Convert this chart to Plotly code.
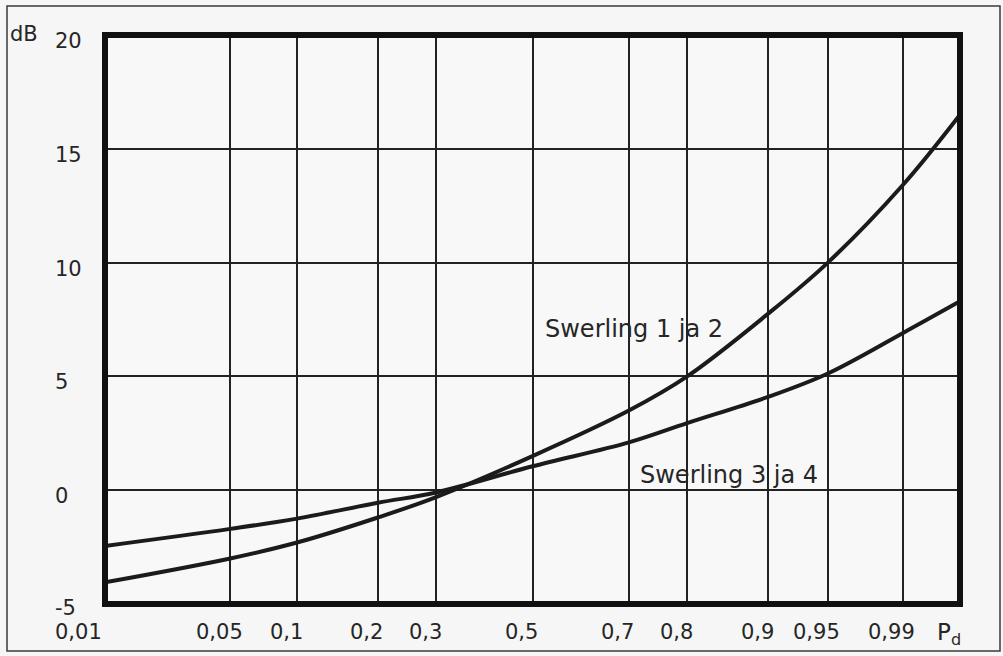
from statistics import NormalDist
import plotly.graph_objects as go

# Detection probability (normal-probability x scale) and required extra SNR in dB
pd_values = [0.01, 0.05, 0.1, 0.2, 0.3, 0.5, 0.7, 0.8, 0.9, 0.946, 0.978, 0.99]
swerling12_db = [-4.05, -3.0, -2.3, -1.2, -0.3, 1.5, 3.5, 5.0, 7.75, 10.0, 13.4, 16.5]
swerling34_db = [-2.45, -1.7, -1.25, -0.55, -0.1, 1.05, 2.1, 2.95, 4.1, 5.13, 6.9, 8.3]

x_tick_probs = [0.01, 0.05, 0.1, 0.2, 0.3, 0.5, 0.7, 0.8, 0.9, 0.946, 0.978]
x_tick_labels = ["0,01", "0,05", "0,1", "0,2", "0,3", "0,5", "0,7", "0,8", "0,9", "0,95", "0,99"]
y_tick_vals = [20, 15, 10, 5, 0, -5]
y_tick_labels = ["20", "15", "10", "5", "0", "-5"]

W, H = 1003, 656
ML, MR, MT, MB = 105, 43, 35, 52
PW, PH = W - ML - MR, H - MT - MB

z = NormalDist().inv_cdf
FONT = "DejaVu Sans"
INK = "#1b1b1b"
TXT = "#262626"

fig = go.Figure()
for name, vals in (("Swerling 1 ja 2", swerling12_db), ("Swerling 3 ja 4", swerling34_db)):
    fig.add_trace(go.Scatter(
        x=[z(p) for p in pd_values], y=vals, mode="lines", name=name,
        line=dict(color=INK, width=4, shape="spline", smoothing=1.0),
        showlegend=False, hoverinfo="skip",
    ))

annotations = []
# x tick labels (sit slightly left of their grid lines)
for i, (p, lab) in enumerate(zip(x_tick_probs, x_tick_labels)):
    first = i == 0
    annotations.append(dict(x=z(p), y=0, xref="x", yref="paper", text=lab,
                            xanchor="right" if first else "center", yanchor="middle",
                            xshift=-1 if first else -11, yshift=-28,
                            showarrow=False, font=dict(family=FONT, size=21, color=TXT)))
# y tick labels, left aligned
for v, lab in zip(y_tick_vals, y_tick_labels):
    annotations.append(dict(x=(53 - ML) / PW, y=v, xref="paper", yref="y", text=lab,
                            xanchor="left", yanchor="middle",
                            yshift=-4 if v == -5 else -6,
                            showarrow=False, font=dict(family=FONT, size=21, color=TXT)))
# axis titles
annotations.append(dict(x=(8 - ML) / PW, y=(H - MB - 34) / PH, xref="paper", yref="paper",
                        text="dB", xanchor="left", yanchor="middle", showarrow=False,
                        font=dict(family=FONT, size=21, color=TXT)))
annotations.append(dict(x=(935 - ML) / PW, y=(H - MB - 634) / PH, xref="paper", yref="paper",
                        text="P<sub>d</sub>", xanchor="left", yanchor="middle", showarrow=False,
                        font=dict(family=FONT, size=23, color=TXT)))
# curve labels
annotations.append(dict(x=z(0.71), y=7.1, xref="x", yref="y", text="Swerling 1 ja 2",
                        xanchor="center", yanchor="middle", showarrow=False,
                        font=dict(family=FONT, size=24, color=TXT)))
annotations.append(dict(x=z(0.858), y=0.66, xref="x", yref="y", text="Swerling 3 ja 4",
                        xanchor="center", yanchor="middle", showarrow=False,
                        font=dict(family=FONT, size=24, color=TXT)))

shapes = [
    # heavy frame around the plotting area
    dict(type="rect", xref="paper", yref="paper", x0=0, y0=0, x1=1, y1=1,
         line=dict(color="#111111", width=6), layer="above"),
    # thin outer frame around the whole figure
    dict(type="rect", xref="paper", yref="paper",
         x0=(7 - ML) / PW, x1=(1000 - ML) / PW,
         y0=(H - MB - 651) / PH, y1=(H - MB - 6) / PH,
         line=dict(color="#3a3a3a", width=1.5), layer="below"),
]

fig.update_layout(
    width=W, height=H,
    margin=dict(l=ML, r=MR, t=MT, b=MB, pad=0),
    paper_bgcolor="#f6f6f6", plot_bgcolor="#f8f8f8",
    annotations=annotations, shapes=shapes,
    xaxis=dict(range=[z(0.01), z(0.99)], tickvals=[z(p) for p in x_tick_probs],
               showticklabels=False, ticks="", showgrid=True, gridcolor="#222222",
               gridwidth=2, zeroline=False, showline=False, fixedrange=True),
    yaxis=dict(range=[-5, 20], tickvals=[15, 10, 5, 0], showticklabels=False, ticks="",
               showgrid=True, gridcolor="#222222", gridwidth=2, zeroline=False,
               showline=False, fixedrange=True),
)

fig.write_html("out.html")
